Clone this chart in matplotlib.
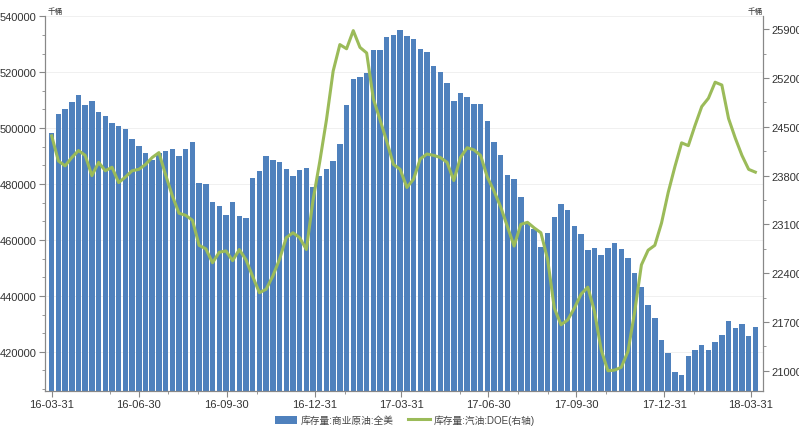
import numpy as np
import pandas as pd
import matplotlib
matplotlib.use('Agg')
import matplotlib.pyplot as plt
import matplotlib.dates as mdates
from matplotlib.ticker import MultipleLocator

plt.rcParams['font.family'] = ['Liberation Sans', 'Noto Sans CJK SC', 'DejaVu Sans']

# weekly data, 2016-03-31 .. 2018-04-05
crude = [498400, 505200, 507000, 509200, 512000, 508400, 509600, 505600, 504200, 501800,
         500900, 499800, 496000, 493600, 491200, 488700, 491000, 491800, 492600, 490100,
         492600, 495000, 480500, 479900, 473700, 472000, 469000, 473700, 468600, 467900,
         482300, 484700, 489900, 488700, 488000, 485500, 482900, 485200, 485900, 478900,
         482900, 485300, 488300, 494400, 508300, 517700, 518300, 519600, 528000, 528000,
         532600, 533300, 535100, 533000, 532000, 528400, 527400, 522200, 520200, 516000,
         509700, 512700, 511300, 508800, 508800, 502500, 495200, 490400, 483100, 481800,
         475400, 466200, 463800, 457600, 462400, 468200, 472700, 470700, 465000, 462000,
         456500, 457200, 454800, 457000, 458900, 456900, 453700, 448300, 443200, 436700,
         432000, 424400, 419700, 412700, 411800, 418500, 420500, 422300, 420600, 423600,
         426000, 431000, 428400, 429900, 425500, 428800]

gasoline = [243700, 240100, 239400, 240600, 241600, 240900, 238000, 239900, 238700, 239200,
            237000, 237800, 238700, 238900, 239600, 240600, 241300, 238100, 235100, 232600,
            232300, 231600, 228000, 227500, 225500, 227000, 227200, 225800, 227400, 225900,
            223500, 221200, 221700, 223600, 226000, 229100, 229800, 229100, 227400, 234500,
            240000, 246000, 253000, 256800, 256200, 258800, 256400, 255600, 249000, 246000,
            242900, 239600, 238900, 236300, 237500, 240400, 241100, 240900, 240600, 239900,
            237300, 240600, 242000, 241700, 240900, 237800, 235800, 233500, 230700, 227900,
            231000, 231300, 230500, 229800, 226000, 219000, 216600, 217300, 219000, 221000,
            222000, 218500, 213000, 210000, 210100, 210500, 212800, 218500, 225200, 227300,
            228000, 231200, 235600, 239300, 242700, 242300, 245200, 247900, 249100, 251400,
            251000, 246200, 243400, 240900, 238900, 238500]

dates = pd.date_range('2016-03-31', periods=len(crude), freq='7D')
tick_dates = ['2016-03-31', '2016-06-30', '2016-09-30', '2016-12-31', '2017-03-31',
              '2017-06-30', '2017-09-30', '2017-12-31', '2018-03-31']

fig = plt.figure(figsize=(7.99, 4.27), dpi=100)
ax = fig.add_axes([45 / 799, 1 - 392 / 427, 718 / 799, 375 / 427])
ax2 = ax.twinx()

ax.bar(dates, crude, width=5.7, color='#4F81BD', label='库存量:商业原油:全美', zorder=2)
ax2.plot(dates, gasoline, color='#9BBB59', lw=2.2, label='库存量:汽油:DOE(右轴)')

ax.set_xlim(pd.Timestamp('2016-03-24'), pd.Timestamp('2018-04-13'))
ax.set_ylim(406000, 540100)
ax2.set_ylim(207100, 260900)

ax.set_yticks(np.arange(420000, 540001, 20000))
ax.yaxis.set_minor_locator(MultipleLocator(20000 / 3))
ax2.set_yticks(np.arange(210000, 259001, 7000))
ax2.yaxis.set_minor_locator(MultipleLocator(3500))
ax.set_xticks(pd.to_datetime(tick_dates))
ax.xaxis.set_major_formatter(mdates.DateFormatter('%y-%m-%d'))
ax.xaxis.set_minor_locator(mdates.MonthLocator(bymonthday=31))

ax.grid(axis='y', color='#eeeeee', lw=0.6, zorder=0)
ax.set_axisbelow(True)

for a in (ax, ax2):
    a.spines['top'].set_visible(False)
    for s in ('left', 'right', 'bottom'):
        a.spines[s].set_color('#888888')
        a.spines[s].set_linewidth(0.8)
    a.tick_params(which='both', colors='#888888', labelcolor='#333333', labelsize=8)
    a.tick_params(which='major', length=4, pad=2)
    a.tick_params(which='minor', length=2.5)

fig.text(48 / 799, 1 - 12 / 427, '千桶', fontsize=5.5, color='#333333', va='center')
fig.text(748 / 799, 1 - 12 / 427, '千桶', fontsize=5.5, color='#333333', va='center')

h1, l1 = ax.get_legend_handles_labels()
h2, l2 = ax2.get_legend_handles_labels()
fig.legend(h1 + h2, l1 + l2, loc='center', bbox_to_anchor=(405 / 799, 1 - 421 / 427),
           ncol=2, frameon=False, fontsize=7, labelcolor='#444444',
           handlelength=2.2, handleheight=1.0, columnspacing=1.5, handletextpad=0.4)

fig.savefig('out.png', dpi=100)
